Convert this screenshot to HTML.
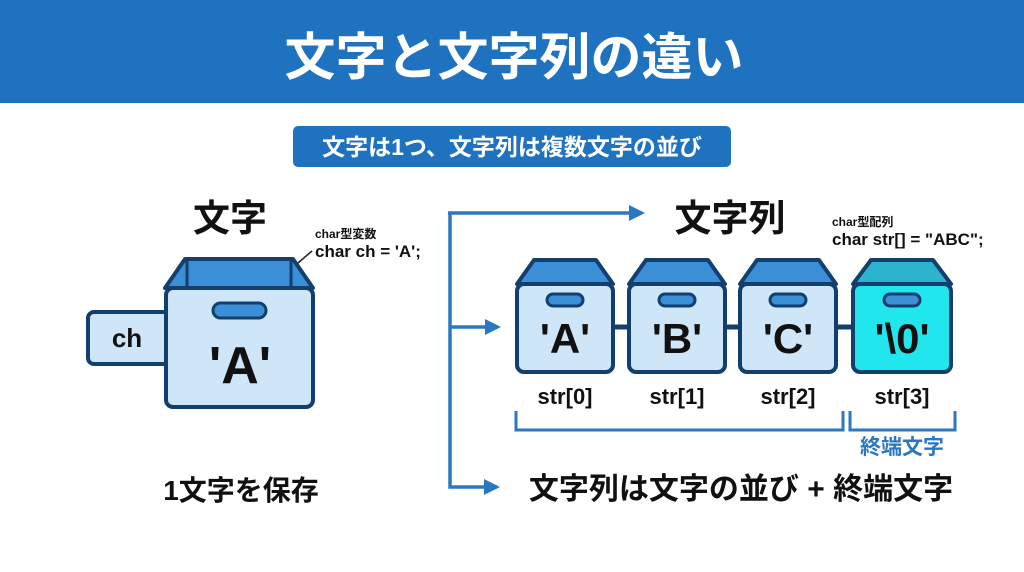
<!DOCTYPE html>
<html><head><meta charset="utf-8"><style>
html,body{margin:0;padding:0;background:#fff;}
svg{display:block}
text{font-family:"Liberation Sans","Noto Sans CJK JP",sans-serif;font-weight:bold;}
</style></head><body>
<svg width="1024" height="572" viewBox="0 0 1024 572" xmlns="http://www.w3.org/2000/svg">
<defs>
<marker id="ah" markerWidth="16" markerHeight="16" refX="13" refY="8" orient="auto" markerUnits="userSpaceOnUse">
<path d="M0,0 L16,8 L0,16 Z" fill="#2a78c2"/></marker>
</defs>
<rect x="0" y="0" width="1024" height="103" fill="#1f72bf"/>
<text x="514" y="75" font-size="51" fill="#fff" text-anchor="middle">文字と文字列の違い</text>
<rect x="293" y="126" width="438" height="41" rx="5" fill="#1f72bf"/>
<text x="512" y="155" font-size="23" fill="#fff" text-anchor="middle">文字は1つ、文字列は複数文字の並び</text>

<!-- left -->
<text x="230" y="231" font-size="37" fill="#111" text-anchor="middle">文字</text>
<text x="315" y="238" font-size="12" fill="#111">char型変数</text>
<text x="315" y="257" font-size="17" fill="#111">char ch = 'A';</text>
<line x1="298" y1="263" x2="312" y2="251" stroke="#222" stroke-width="1.5"/>
<rect x="88" y="312" width="82" height="52" rx="6" fill="#cfe6f9" stroke="#133f6e" stroke-width="4"/>
<text x="127" y="347" font-size="26" fill="#111" text-anchor="middle">ch</text>
<path d="M185,259 L293,259 L313,288 L165,288 Z" fill="#3b8fd6" stroke="#133f6e" stroke-width="4" stroke-linejoin="round"/>
<line x1="187" y1="261" x2="187" y2="288" stroke="#133f6e" stroke-width="3"/>
<line x1="291" y1="261" x2="291" y2="288" stroke="#133f6e" stroke-width="3"/>
<rect x="166" y="288" width="147" height="119" rx="7" fill="#cfe6f9" stroke="#133f6e" stroke-width="4"/>
<rect x="213" y="303" width="53" height="15" rx="7.5" fill="#3b8fd6" stroke="#133f6e" stroke-width="3"/>
<text x="240" y="383" font-size="52" fill="#111" text-anchor="middle">'A'</text>
<text x="241" y="500" font-size="28" fill="#111" text-anchor="middle">1文字を保存</text>

<!-- right arrows -->
<path d="M450,213 L450,487 L497,487" fill="none" stroke="#2a78c2" stroke-width="3.5" marker-end="url(#ah)"/>
<line x1="448" y1="213" x2="642" y2="213" stroke="#2a78c2" stroke-width="3.5" marker-end="url(#ah)"/>
<line x1="450" y1="327" x2="498" y2="327" stroke="#2a78c2" stroke-width="3.5" marker-end="url(#ah)"/>
<text x="730" y="231" font-size="37" fill="#111" text-anchor="middle">文字列</text>
<text x="832" y="226" font-size="12" fill="#111">char型配列</text>
<text x="832" y="245" font-size="17" fill="#111">char str[] = "ABC";</text>

<!-- connectors -->
<line x1="605" y1="327" x2="635" y2="327" stroke="#133f6e" stroke-width="5"/>
<line x1="717" y1="327" x2="747" y2="327" stroke="#133f6e" stroke-width="5"/>
<line x1="829" y1="327" x2="860" y2="327" stroke="#133f6e" stroke-width="5"/>

<g font-size="42" fill="#111" text-anchor="middle">
<g transform="translate(565,0)">
<path d="M-31,260 L31,260 L48,284 L-48,284 Z" fill="#3b8fd6" stroke="#133f6e" stroke-width="4" stroke-linejoin="round"/>
<rect x="-48" y="284" width="96" height="88" rx="7" fill="#cfe6f9" stroke="#133f6e" stroke-width="4"/>
<rect x="-18" y="294" width="36" height="12" rx="6" fill="#3b8fd6" stroke="#133f6e" stroke-width="3"/>
<text x="0" y="353">'A'</text>
<text x="0" y="404" font-size="22">str[0]</text></g>
<g transform="translate(677,0)">
<path d="M-31,260 L31,260 L48,284 L-48,284 Z" fill="#3b8fd6" stroke="#133f6e" stroke-width="4" stroke-linejoin="round"/>
<rect x="-48" y="284" width="96" height="88" rx="7" fill="#cfe6f9" stroke="#133f6e" stroke-width="4"/>
<rect x="-18" y="294" width="36" height="12" rx="6" fill="#3b8fd6" stroke="#133f6e" stroke-width="3"/>
<text x="0" y="353">'B'</text>
<text x="0" y="404" font-size="22">str[1]</text></g>
<g transform="translate(788,0)">
<path d="M-31,260 L31,260 L48,284 L-48,284 Z" fill="#3b8fd6" stroke="#133f6e" stroke-width="4" stroke-linejoin="round"/>
<rect x="-48" y="284" width="96" height="88" rx="7" fill="#cfe6f9" stroke="#133f6e" stroke-width="4"/>
<rect x="-18" y="294" width="36" height="12" rx="6" fill="#3b8fd6" stroke="#133f6e" stroke-width="3"/>
<text x="0" y="353">'C'</text>
<text x="0" y="404" font-size="22">str[2]</text></g>
<g transform="translate(902,0)">
<path d="M-31,260 L31,260 L49,284 L-49,284 Z" fill="#2cb4cf" stroke="#133f6e" stroke-width="4" stroke-linejoin="round"/>
<rect x="-49" y="284" width="98" height="88" rx="7" fill="#22e6ee" stroke="#133f6e" stroke-width="4"/>
<rect x="-18" y="294" width="36" height="12" rx="6" fill="#3b8fd6" stroke="#133f6e" stroke-width="3"/>
<text x="0" y="353">'\0'</text>
<text x="0" y="404" font-size="22">str[3]</text></g>
</g>

<path d="M516,411 L516,430 L843,430 L843,411" fill="none" stroke="#2a78c2" stroke-width="3"/>
<path d="M850,411 L850,430 L955,430 L955,411" fill="none" stroke="#2a78c2" stroke-width="3"/>
<text x="902" y="454" font-size="21" fill="#2a78c2" text-anchor="middle">終端文字</text>
<text x="741" y="499" font-size="30" fill="#111" text-anchor="middle">文字列は文字の並び + 終端文字</text>
</svg>
</body></html>
